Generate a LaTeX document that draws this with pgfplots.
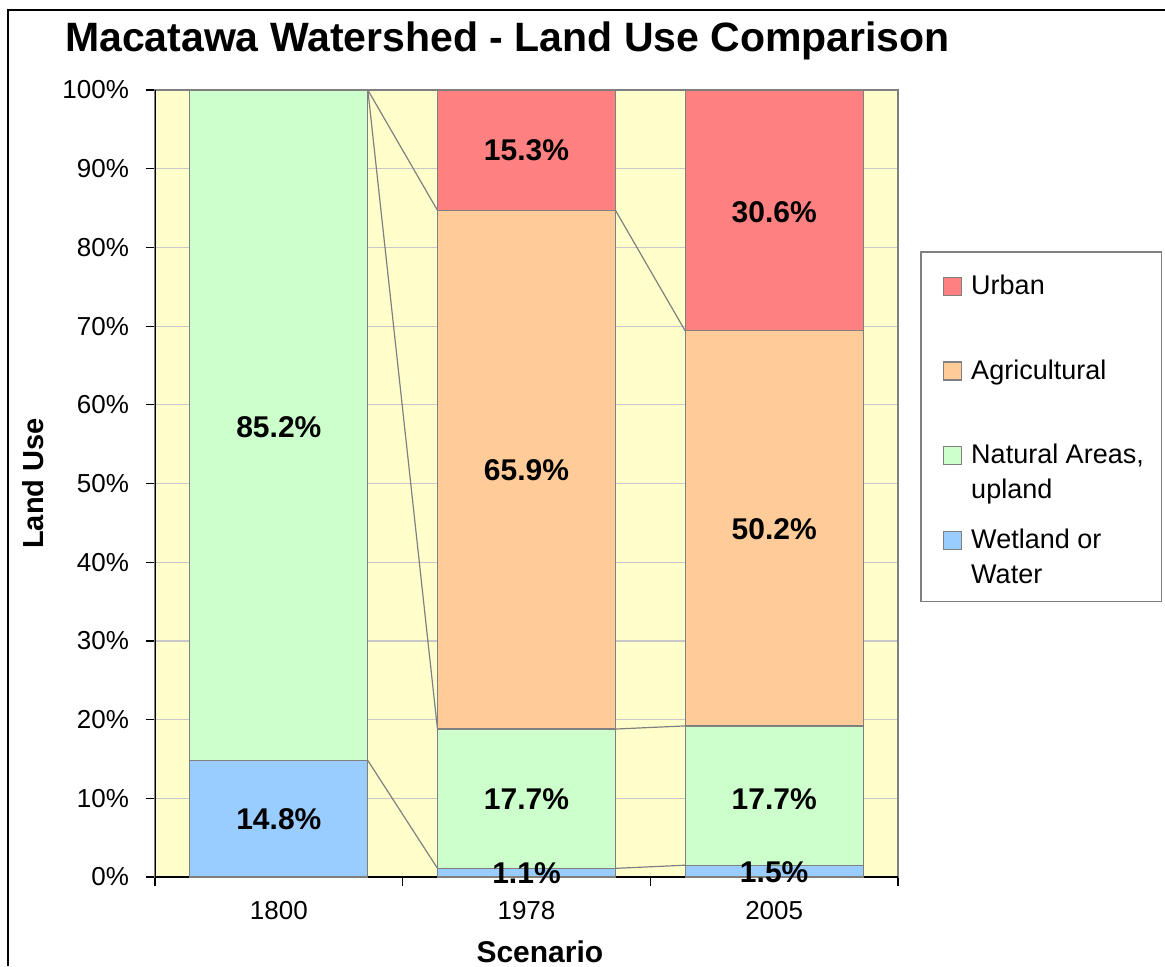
\documentclass[border=0pt]{standalone}
\usepackage{pgfplots}
\pgfplotsset{compat=1.18}
\usepackage{fontspec}
\setmainfont{Liberation Sans}
\definecolor{cUrban}{HTML}{FF8080}
\definecolor{cAgri}{HTML}{FFCC99}
\definecolor{cNat}{HTML}{CCFFCC}
\definecolor{cWet}{HTML}{99CCFF}
\definecolor{cBg}{HTML}{FFFFCC}
\definecolor{cEdge}{HTML}{808080}
\definecolor{cGrid}{HTML}{C8C8C8}
\newcommand{\legtxt}[1]{\parbox[t]{85pt}{#1}}
\pgfplotsset{
  commonaxis/.style={
    at={(77.5pt,44.5pt)}, anchor=south west, scale only axis,
    width=371.5pt, height=393.5pt,
    xmin=-0.5, xmax=2.5, ymin=0, ymax=100,
    /pgf/number format/assume math mode=true,
  }
}
\begin{document}
\begin{tikzpicture}[x=0.5pt,y=0.5pt]
\useasboundingbox (0,0) rectangle (1165,966);
\draw[line width=1pt] (8,0) -- (8,956) -- (1165,956);
\begin{axis}[commonaxis,
  ybar stacked, bar width=89pt,
  axis background/.style={fill=cBg},
  axis line style={draw=cEdge, line width=0.6pt},
  ymajorgrids, grid style={draw=cGrid, line width=0.6pt},
  ytick={0,10,...,100},
  yticklabel={\pgfmathprintnumber{\tick}\%},
  yticklabel style={xshift=-5pt},
  xtick={-0.5,0.5,1.5,2.5}, xticklabels={},
  extra x ticks={0,1,2}, extra x tick labels={1800,1978,2005},
  extra x tick style={major tick length=0pt, grid=none,
     xticklabel style={anchor=base, yshift=-21pt}},
  tick align=outside, tick pos=left,
  major tick length=4.5pt,
  tick style={draw=black, line width=0.6pt},
  ticklabel style={font=\fontsize{13}{15}\selectfont},
  title={Macatawa Watershed - Land Use Comparison},
  every axis title/.style={at={(rel axis cs:0.4744,1.0483)}, anchor=base,
     font=\bfseries\fontsize{20.5}{24}\selectfont},
  xlabel={Scenario},
  every axis x label/.style={at={(rel axis cs:0.518,-0.108)}, anchor=base,
     font=\bfseries\fontsize{15}{18}\selectfont},
  ylabel={Land Use},
  every axis y label/.style={at={(rel axis cs:-0.1494,0.5)}, rotate=90, anchor=base,
     font=\bfseries\fontsize{14.5}{17}\selectfont},
  reverse legend,
  legend cell align=left,
  legend style={at={(1.031,0.7942)}, anchor=north west, draw=cEdge, line width=0.6pt,
     fill=white, inner sep=5.5pt, outer sep=0pt, row sep=5.65pt,
     font=\fontsize{13.5}{17.5}\selectfont,
     nodes={inner xsep=4.5pt, inner ysep=1pt, text height=14.7pt, text depth=20pt},
     cells={anchor=base west}},
  legend image code/.code={\path (0pt,0pt); \draw[#1, draw=cEdge, line width=0.6pt] (5.5pt,-0.5pt) rectangle (14.5pt,8.5pt);},
]
\addplot[fill=cWet, draw=cEdge, line width=0.6pt] coordinates {(0,14.8) (1,1.1) (2,1.5)};
\addlegendentry{\legtxt{Wetland or\\Water}}
\addplot[fill=cNat, draw=cEdge, line width=0.6pt] coordinates {(0,85.2) (1,17.7) (2,17.7)};
\addlegendentry{\legtxt{\mbox{Natural Areas,}\\upland}}
\addplot[fill=cAgri, draw=cEdge, line width=0.6pt] coordinates {(0,0) (1,65.9) (2,50.2)};
\addlegendentry{\legtxt{Agricultural}}
\addplot[fill=cUrban, draw=cEdge, line width=0.6pt] coordinates {(0,0) (1,15.3) (2,30.6)};
\addlegendentry{\legtxt{Urban}}
\draw[black, line width=0.75pt] (rel axis cs:0,1) -- (rel axis cs:0,0) -- (rel axis cs:1,0);
\end{axis}
\begin{axis}[commonaxis, hide axis, clip=false]
% series lines
\addplot[cEdge, line width=0.6pt] coordinates {(0.3594,14.8) (0.6406,1.1)};
\addplot[cEdge, line width=0.6pt] coordinates {(1.3594,1.1) (1.6406,1.5)};
\addplot[cEdge, line width=0.6pt] coordinates {(0.3594,100) (0.6406,18.8)};
\addplot[cEdge, line width=0.6pt] coordinates {(1.3594,18.8) (1.6406,19.2)};
\addplot[cEdge, line width=0.6pt] coordinates {(0.3594,100) (0.6406,84.7)};
\addplot[cEdge, line width=0.6pt] coordinates {(1.3594,84.7) (1.6406,69.4)};
\addplot[cEdge, line width=0.6pt] coordinates {(0.3594,100) (0.6406,100)};
\addplot[cEdge, line width=0.6pt] coordinates {(1.3594,100) (1.6406,100)};
% data labels
\addplot[only marks, mark=none, point meta=explicit,
  nodes near coords={\pgfmathprintnumber[fixed,fixed zerofill,precision=1]{\pgfplotspointmeta}\%},
  nodes near coords style={anchor=center, font=\bfseries\fontsize{15}{18}\selectfont}]
  coordinates {
  (0,7.4) [14.8] (0,57.2) [85.2]
  (1,0.55) [1.1] (1,9.9) [17.7] (1,51.75) [65.9] (1,92.35) [15.3]
  (2,0.65) [1.5] (2,9.9) [17.7] (2,44.2) [50.2] (2,84.5) [30.6]
  };
\end{axis}
\end{tikzpicture}
\end{document}
